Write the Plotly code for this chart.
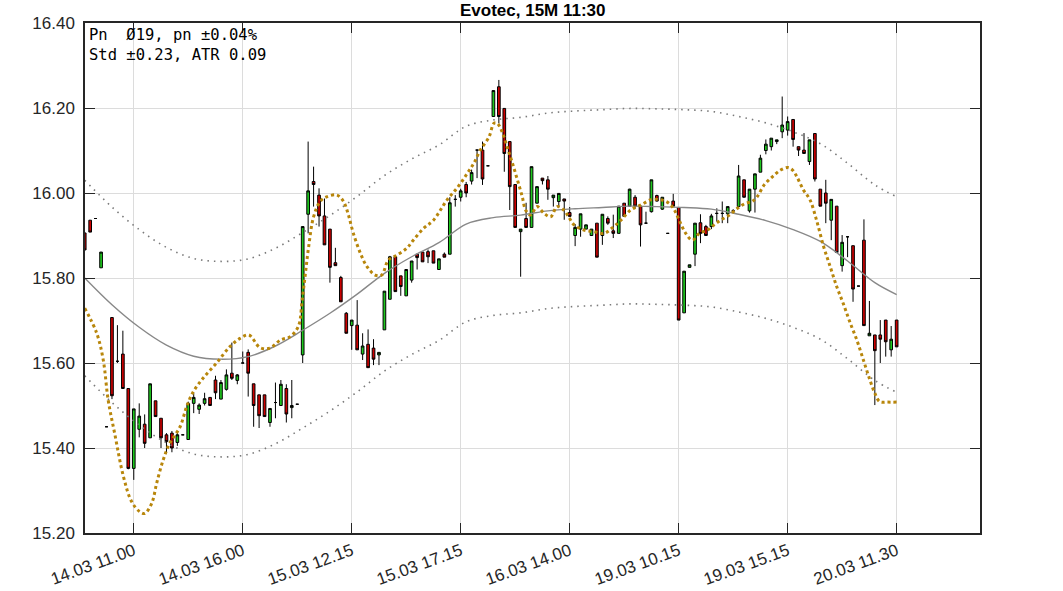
import plotly.graph_objects as go

# ---------------- data ----------------
opens = [15.906, 15.936, 15.94, 15.824, 15.45, 15.707, 15.604, 15.621, 15.54, 15.352,
         15.444, 15.456, 15.424, 15.511, 15.47, 15.431, 15.435, 15.413, 15.431, 15.42,
         15.505, 15.491, 15.505, 15.519, 15.56, 15.515, 15.538, 15.576, 15.559, 15.60,
         15.625, 15.551, 15.525, 15.525, 15.46, 15.507, 15.50, 15.54, 15.495, 15.503,
         15.619, 15.95, 16.027, 15.995, 15.946, 15.915, 15.836, 15.801, 15.717, 15.688,
         15.689, 15.621, 15.644, 15.635, 15.619, 15.678, 15.75, 15.85, 15.805, 15.758,
         15.795, 15.856, 15.861, 15.862, 15.864, 15.82, 15.856, 15.856, 15.985, 15.99,
         16.02, 16.028, 16.101, 16.101, 16.064, 16.18, 16.25, 16.199, 16.121, 16.02,
         15.909, 15.94, 15.919, 15.976, 16.035, 16.031, 15.989, 15.98, 15.986, 15.954,
         15.90, 15.915, 15.915, 15.90, 15.929, 15.90, 15.94, 15.911, 15.905, 15.976,
         15.969, 15.99, 15.969, 15.929, 15.956, 15.994, 15.962, 15.905, 15.981, 15.966,
         15.718, 15.825, 15.856, 15.93, 15.921, 15.921, 15.952, 15.952, 15.951, 15.958,
         15.968, 16.031, 15.958, 16.009, 16.049, 16.10, 16.109, 16.121, 16.144, 16.148,
         16.173, 16.109, 16.101, 16.074, 16.14, 16.009, 16.0, 15.936, 15.969, 15.829,
         15.897, 15.876, 15.781, 15.889, 15.664, 15.666, 15.666, 15.701, 15.631, 15.701]
highs = [15.906, 15.936, 15.94, 15.861, 15.45, 15.707, 15.689, 15.676, 15.54, 15.492,
         15.505, 15.479, 15.551, 15.511, 15.47, 15.435, 15.44, 15.436, 15.431, 15.509,
         15.53, 15.505, 15.53, 15.519, 15.57, 15.56, 15.585, 15.648, 15.574, 15.627,
         15.632, 15.551, 15.525, 15.525, 15.493, 15.554, 15.56, 15.55, 15.56, 15.503,
         15.921, 16.121, 16.062, 16.011, 15.987, 15.915, 15.871, 15.805, 15.72, 15.701,
         15.748, 15.67, 15.679, 15.656, 15.625, 15.769, 15.852, 15.85, 15.805, 15.82,
         15.84, 15.856, 15.861, 15.867, 15.864, 15.845, 15.86, 15.99, 15.995, 16.01,
         16.026, 16.055, 16.101, 16.121, 16.064, 16.241, 16.266, 16.199, 16.121, 16.02,
         15.915, 15.977, 16.062, 16.015, 16.035, 16.04, 15.995, 15.999, 15.986, 15.967,
         15.927, 15.951, 15.925, 15.915, 15.929, 15.95, 15.945, 15.949, 15.969, 15.976,
         16.01, 15.995, 15.969, 15.956, 16.031, 15.996, 15.99, 15.905, 15.998, 15.966,
         15.816, 15.831, 15.929, 15.95, 15.925, 15.951, 15.964, 15.98, 15.968, 15.962,
         16.066, 16.031, 16.009, 16.045, 16.09, 16.126, 16.129, 16.125, 16.227, 16.18,
         16.173, 16.109, 16.141, 16.125, 16.14, 16.009, 16.031, 15.985, 15.969, 15.901,
         15.897, 15.876, 15.781, 15.938, 15.746, 15.666, 15.701, 15.701, 15.687, 15.701]
lows = [15.866, 15.908, 15.94, 15.824, 15.45, 15.515, 15.60, 15.54, 15.35, 15.325,
        15.425, 15.40, 15.424, 15.474, 15.40, 15.387, 15.39, 15.405, 15.431, 15.42,
        15.482, 15.48, 15.50, 15.50, 15.515, 15.515, 15.535, 15.56, 15.55, 15.60,
        15.521, 15.45, 15.447, 15.474, 15.45, 15.47, 15.50, 15.46, 15.47, 15.503,
        15.60, 15.905, 15.968, 15.921, 15.878, 15.789, 15.829, 15.744, 15.67, 15.631,
        15.631, 15.607, 15.589, 15.595, 15.595, 15.678, 15.75, 15.768, 15.758, 15.758,
        15.789, 15.82, 15.838, 15.835, 15.835, 15.82, 15.849, 15.856, 15.968, 15.98,
        15.99, 16.02, 16.035, 16.019, 16.064, 16.18, 16.164, 16.05, 15.96, 15.919,
        15.803, 15.919, 15.919, 15.976, 16.02, 15.984, 15.968, 15.966, 15.937, 15.945,
        15.875, 15.897, 15.915, 15.90, 15.849, 15.878, 15.925, 15.894, 15.905, 15.945,
        15.969, 15.965, 15.874, 15.929, 15.954, 15.98, 15.96, 15.905, 15.969, 15.701,
        15.718, 15.825, 15.828, 15.882, 15.90, 15.915, 15.933, 15.929, 15.929, 15.955,
        15.968, 15.99, 15.954, 15.954, 16.049, 16.091, 16.10, 16.115, 16.129, 16.135,
        16.109, 16.087, 16.093, 16.066, 16.027, 15.969, 15.929, 15.889, 15.86, 15.815,
        15.849, 15.744, 15.781, 15.688, 15.664, 15.501, 15.60, 15.615, 15.615, 15.638]
closes = [15.866, 15.908, 15.94, 15.861, 15.45, 15.523, 15.604, 15.54, 15.352, 15.492,
          15.475, 15.411, 15.551, 15.474, 15.424, 15.415, 15.40, 15.431, 15.431, 15.505,
          15.519, 15.501, 15.516, 15.50, 15.53, 15.554, 15.572, 15.564, 15.572, 15.60,
          15.576, 15.50, 15.476, 15.474, 15.493, 15.507, 15.55, 15.48, 15.50, 15.503,
          15.921, 16.005, 16.02, 15.946, 15.878, 15.825, 15.829, 15.744, 15.67, 15.701,
          15.631, 15.64, 15.589, 15.609, 15.625, 15.769, 15.85, 15.768, 15.78, 15.82,
          15.84, 15.848, 15.838, 15.85, 15.835, 15.845, 15.849, 15.977, 15.985, 16.005,
          16.0, 16.048, 16.101, 16.033, 16.064, 16.241, 16.18, 16.093, 16.015, 15.919,
          15.915, 15.919, 16.062, 16.015, 16.029, 16.009, 15.995, 15.999, 15.981, 15.945,
          15.919, 15.951, 15.925, 15.915, 15.849, 15.95, 15.929, 15.905, 15.969, 15.945,
          16.009, 15.969, 15.925, 15.929, 16.031, 15.981, 15.99, 15.905, 15.969, 15.701,
          15.816, 15.831, 15.929, 15.905, 15.90, 15.946, 15.952, 15.952, 15.968, 15.958,
          16.04, 15.99, 16.009, 16.045, 16.082, 16.115, 16.129, 16.125, 16.16, 16.168,
          16.126, 16.101, 16.093, 16.125, 16.033, 15.969, 15.976, 15.985, 15.86, 15.884,
          15.897, 15.774, 15.781, 15.688, 15.67, 15.629, 15.656, 15.65, 15.656, 15.638]

# middle line (read every 5 bars) and band half-width shown in the chart text
mid_idx = [0, 5, 10, 15, 20, 25, 30, 35, 40, 45, 50, 55, 60, 65, 70, 75, 80, 85, 90,
           95, 100, 105, 110, 115, 120, 125, 130, 135, 140, 145, 149]
mid_val = [15.80, 15.737, 15.684, 15.642, 15.616, 15.609, 15.615, 15.64, 15.677, 15.717,
           15.762, 15.811, 15.85, 15.883, 15.927, 15.942, 15.948, 15.958, 15.963, 15.966,
           15.969, 15.968, 15.966, 15.962, 15.950, 15.935, 15.914, 15.886, 15.84, 15.789,
           15.761]
STD = 0.23

# smoothed (gold dotted) line
gold_idx = [0.0, 2.2, 3.4, 4.3, 5.5, 7.1, 8.6, 10.1, 11.0, 12.3, 13.2, 14.4, 15.6, 17.5,
            18.7, 19.9, 21.7, 24.2, 26.6, 28.5, 30.1, 32.2, 34.0, 35.9, 37.7, 39.2, 39.9,
            40.5, 41.1, 42.0, 43.2, 44.4, 46.3, 47.5, 48.4, 49.3, 50.6, 51.8, 53.3, 54.5,
            55.7, 57.3, 59.1, 60.3, 62.2, 64.0, 66.5, 68.3, 70.2, 71.4, 72.6, 74.2, 75.1,
            75.7, 76.6, 77.5, 78.4, 79.4, 80.3, 80.9, 81.8, 83.0, 84.3, 85.5, 86.7, 87.9,
            88.8, 89.8, 91.6, 93.4, 95.3, 97.1, 98.4, 100.2, 102.1, 103.9, 105.7, 107.2,
            108.2, 109.1, 110.3, 111.5, 112.8, 114.3, 115.5, 116.7, 118.3, 119.8, 121.3,
            122.5, 123.4, 124.7, 126.2, 127.7, 129.0, 129.9, 130.7, 131.9, 133.1, 134.3,
            135.6, 136.8, 138.0, 139.2, 140.4, 141.7, 142.9, 144.1, 145.0, 145.9, 147.2,
            149.0]
gold_val = [15.729, 15.67, 15.607, 15.513, 15.434, 15.333, 15.274, 15.25, 15.246, 15.27,
            15.317, 15.372, 15.411, 15.45, 15.497, 15.532, 15.564, 15.60, 15.638, 15.658,
            15.666, 15.636, 15.635, 15.654, 15.662, 15.686, 15.748, 15.811, 15.874, 15.944,
            15.98, 15.991, 15.995, 15.98, 15.948, 15.905, 15.858, 15.827, 15.807, 15.807,
            15.842, 15.854, 15.87, 15.889, 15.917, 15.936, 15.984, 16.011, 16.046, 16.07,
            16.101, 16.132, 16.164, 16.164, 16.144, 16.109, 16.074, 16.031, 15.991, 15.96,
            15.948, 15.968, 15.952, 15.944, 15.968, 15.96, 15.944, 15.925, 15.913, 15.909,
            15.905, 15.921, 15.936, 15.96, 15.972, 15.984, 15.984, 15.976, 15.96, 15.936,
            15.905, 15.889, 15.905, 15.913, 15.925, 15.936, 15.948, 15.964, 15.976, 15.98,
            15.991, 16.019, 16.038, 16.054, 16.06, 16.054, 16.038, 16.007, 15.984, 15.936,
            15.874, 15.827, 15.78, 15.74, 15.697, 15.654, 15.607, 15.56, 15.529, 15.509,
            15.508, 15.508]

tick_pos = [9, 29, 49, 69, 89, 109, 129, 149]
tick_text = ["14.03 11.00", "14.03 16.00", "15.03 12.15", "15.03 17.15",
             "16.03 14.00", "19.03 10.15", "19.03 15.15", "20.03 11.30"]

title_text = "Evotec, 15M 11:30"
info_text = "Pn  Ø19, pn ±0.04%<br>Std ±0.23, ATR 0.09"

# ---------------- figure ----------------
x = list(range(len(opens)))
upper = [v + STD for v in mid_val]
lower = [v - STD for v in mid_val]

fig = go.Figure()
band_line = dict(color="#7a7a7a", width=1.6, dash="1.5px,5px", shape="spline")
fig.add_trace(go.Scatter(x=mid_idx, y=upper, mode="lines", line=band_line, hoverinfo="skip"))
fig.add_trace(go.Scatter(x=mid_idx, y=lower, mode="lines", line=band_line, hoverinfo="skip"))
fig.add_trace(go.Scatter(x=mid_idx, y=mid_val, mode="lines",
                         line=dict(color="#888888", width=1.4, shape="spline"), hoverinfo="skip"))
fig.add_trace(go.Candlestick(
    x=x, open=opens, high=highs, low=lows, close=closes,
    increasing=dict(fillcolor="#1ec81e", line=dict(color="#000000", width=1)),
    decreasing=dict(fillcolor="#cc0000", line=dict(color="#000000", width=1)),
    whiskerwidth=0,
))
fig.add_trace(go.Scatter(x=gold_idx, y=gold_val, mode="lines",
                         line=dict(color="#b8860b", width=3, dash="3px,3px", shape="spline"),
                         hoverinfo="skip"))

axis_common = dict(
    showline=True, linecolor="#262626", linewidth=1.5, mirror="ticks",
    ticks="inside", ticklen=10, tickwidth=1, tickcolor="#262626",
    showgrid=True, gridcolor="#dcdcdc", gridwidth=1, zeroline=False, automargin=False,
)
fig.update_xaxes(range=[0.05, 164.3], tickmode="array", tickvals=tick_pos, ticktext=tick_text,
                 tickangle=-20, rangeslider=dict(visible=False),
                 tickfont=dict(family="Liberation Sans, Arial, sans-serif", size=17, color="#262626"),
                 **axis_common)
fig.update_yaxes(range=[15.2, 16.4], tickmode="linear", tick0=15.2, dtick=0.2, tickformat=".2f",
                 ticklabelstandoff=5,
                 tickfont=dict(family="Liberation Sans, Arial, sans-serif", size=17, color="#262626"),
                 **axis_common)

fig.add_annotation(xref="paper", yref="paper", x=0.5, y=1, yanchor="bottom", xanchor="center",
                   text="<b>" + title_text + "</b>", showarrow=False, yshift=1,
                   font=dict(family="Liberation Sans, Arial, sans-serif", size=17, color="#000000"))
fig.add_annotation(xref="paper", yref="paper", x=0, y=1, xanchor="left", yanchor="top",
                   text=info_text, showarrow=False, align="left", xshift=2, yshift=-1,
                   font=dict(family="DejaVu Sans Mono, monospace", size=15.5, color="#000000"))

fig.update_layout(
    width=1063, height=591, showlegend=False,
    margin=dict(l=85, r=83, t=23, b=58, autoexpand=False),
    paper_bgcolor="white", plot_bgcolor="white",
)
fig.write_html("out.html", config={"displayModeBar": False},
               post_script="document.body.style.margin='0px';")
